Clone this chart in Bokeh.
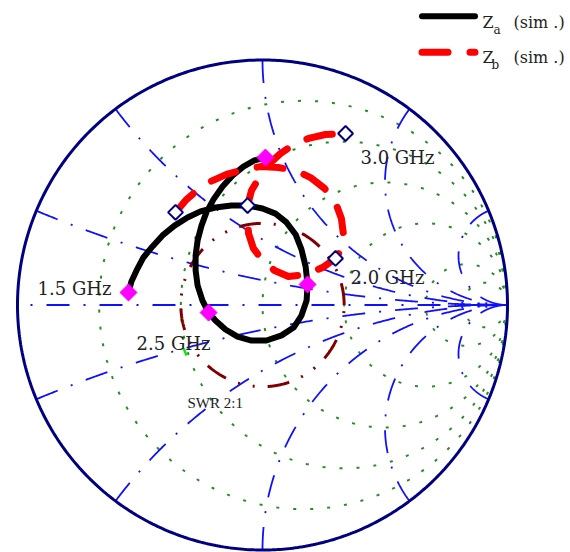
import numpy as np
from bokeh.plotting import figure
from bokeh.models import Label, Range1d
from bokeh.embed import file_html
from bokeh.resources import INLINE

# ---------------- data (reflection coefficient) ----------------
freq_labels = ["1.5 GHz", "2.0 GHz", "2.5 GHz", "3.0 GHz"]

za_re = [-0.547, -0.535, -0.514, -0.486, -0.449, -0.408, -0.359, -0.306, -0.253, -0.192,
         -0.127, -0.061, 0.000, 0.053, 0.098, 0.135, 0.159, 0.176, 0.184, 0.180,
         0.159, 0.127, 0.078, 0.016, -0.045, -0.102, -0.151, -0.192, -0.220, -0.245,
         -0.265, -0.273, -0.273, -0.265, -0.249, -0.229, -0.200, -0.163, -0.122, -0.078,
         -0.033, 0.012]
za_im = [0.051, 0.096, 0.141, 0.194, 0.239, 0.284, 0.324, 0.357, 0.382, 0.398,
         0.406, 0.406, 0.394, 0.373, 0.337, 0.288, 0.227, 0.157, 0.084, 0.018,
         -0.043, -0.092, -0.124, -0.145, -0.145, -0.129, -0.100, -0.063, -0.031, 0.018,
         0.080, 0.141, 0.202, 0.263, 0.324, 0.378, 0.431, 0.484, 0.529, 0.565,
         0.590, 0.602]

zb_re = [-0.355, -0.314, -0.269, -0.212, -0.147, -0.078, -0.008, 0.065, 0.135, 0.196,
         0.253, 0.298, 0.322, 0.331, 0.318, 0.298, 0.245, 0.176, 0.106, 0.049,
         0.000, -0.037, -0.057, -0.061, -0.061, -0.045, -0.016, 0.024, 0.073, 0.127,
         0.188, 0.257, 0.339]
zb_im = [0.378, 0.427, 0.467, 0.504, 0.533, 0.553, 0.565, 0.561, 0.549, 0.520,
         0.476, 0.418, 0.353, 0.284, 0.222, 0.190, 0.153, 0.124, 0.116, 0.141,
         0.182, 0.231, 0.292, 0.353, 0.406, 0.467, 0.516, 0.573, 0.618, 0.655,
         0.680, 0.696, 0.700]

# frequency markers (1.5, 2.0, 2.5, 3.0 GHz)
za_mark_re = [-0.547, 0.184, -0.220, 0.012]
za_mark_im = [0.051, 0.084, -0.031, 0.602]
zb_mark_re = [-0.355, 0.298, -0.061, 0.339]
zb_mark_im = [0.378, 0.190, 0.406, 0.700]

# frequency label anchors (left, baseline) in Gamma units
label_re = [-0.918, 0.359, -0.514, 0.400]
label_im = [0.067, 0.112, -0.157, 0.602]

# Smith chart grid
r_circles = [0.2, 0.5, 1.0, 2.0, 5.0, 10.0]
x_arcs = [0.2, 0.5, 1.0, 2.0, 5.0]
swr_value = 2.0
swr_text = "SWR 2:1"
swr_label_re, swr_label_im = -0.306, -0.400
swr_leader_re = [-0.322, -0.310]
swr_leader_im = [-0.177, -0.206]

series_names = ["Z", "Z"]
series_subs = ["a", "b"]
series_suffix = "(sim .)"

# ---------------- figure geometry ----------------
CX, CY, R = 262.0, 304.5, 245.0     # picture pixels of chart centre and radius
W, H = 570, 552
x0 = -CX / R
x1 = (W - CX) / R
y1 = CY / R
y0 = (CY - H) / R

p = figure(width=W, height=H, x_range=Range1d(x0, x1), y_range=Range1d(y0, y1),
           output_backend="svg", toolbar_location=None, min_border=0,
           x_axis_type=None, y_axis_type=None)
p.grid.visible = False
p.outline_line_color = None
p.background_fill_color = "white"
p.border_fill_color = "white"

GREEN = "#2a8a2a"
BLUE = "#1010ff"
BLUE_DASH = "23 14 2 14"

# constant resistance circles (green dotted)
t = np.linspace(0, 2 * np.pi, 600)
for r in r_circles:
    c = r / (r + 1.0)
    rad = 1.0 / (r + 1.0)
    p.line(c + rad * np.cos(t), rad * np.sin(t), line_color=GREEN, line_width=2,
           line_dash="3 14")

# constant reactance arcs (blue dash-dot), drawn from rim to (1,0)
for xv in x_arcs:
    cy_ = 1.0 / xv
    rho = 1.0 / xv
    ex = (xv * xv - 1) / (xv * xv + 1)
    ey = 2 * xv / (xv * xv + 1)
    th_e = np.arctan2(ey - cy_, ex - 1.0) % (2 * np.pi)
    th = np.linspace(th_e, 1.5 * np.pi, 400)
    ax = 1.0 + rho * np.cos(th)
    ay = cy_ + rho * np.sin(th)
    for s in (1, -1):
        p.line(ax, s * ay, line_color=BLUE, line_width=1.8, line_dash=BLUE_DASH)
# real axis
p.line([-1, 1], [0, 0], line_color=BLUE, line_width=1.8, line_dash=BLUE_DASH,
       line_dash_offset=24)

# outer rim
p.line(np.cos(t), np.sin(t), line_color="#000080", line_width=3)

# SWR circle
g = (swr_value - 1) / (swr_value + 1)
p.line(g * np.cos(t), g * np.sin(t), line_color="#800000", line_width=3,
       line_dash="22 13 2 13 2 13")
p.line(swr_leader_re, swr_leader_im, line_color="#00ee00", line_width=2.5)

# traces
p.line(za_re, za_im, line_color="black", line_width=6, line_join="round", line_cap="round")
p.line(zb_re, zb_im, line_color="#ff0000", line_width=7, line_join="round", line_cap="round",
       line_dash="26 22")

# markers
p.scatter(za_mark_re, za_mark_im, marker="square", angle=np.pi / 4, size=12,
          fill_color="#ff00ff", line_color="#ff00ff")
p.scatter(zb_mark_re, zb_mark_im, marker="square", angle=np.pi / 4, size=10.5,
          fill_color="white", line_color="#000080", line_width=2)

FONT = "DejaVu Serif"
TXT = "#222222"
for lx, ly, txt in zip(label_re, label_im, freq_labels):
    p.add_layout(Label(x=lx, y=ly, text=txt, text_font=FONT, text_font_size="18px",
                       text_color=TXT, text_baseline="alphabetic", text_align="left"))
p.add_layout(Label(x=swr_label_re, y=swr_label_im, text=swr_text, text_font="Liberation Serif",
                   text_font_size="15px", text_color=TXT, text_baseline="alphabetic"))

# legend (drawn manually)
def pg(px, py):
    return (px - CX) / R, (CY - py) / R

lx0, ly0 = pg(421.5, 15.7)
lx1, _ = pg(474.5, 15.7)
p.line([lx0, lx1], [ly0, ly0], line_color="black", line_width=6, line_cap="round")
_, ly2 = pg(421.5, 51.7)
p.line([lx0, lx1], [ly2, ly2], line_color="#ff0000", line_width=7, line_cap="round",
       line_dash="26 22")

rows_baseline = [22, 57]
for i, base in enumerate(rows_baseline):
    sy = H - base
    p.add_layout(Label(x=482, y=sy, x_units="screen", y_units="screen",
                       text=series_names[i], text_font=FONT, text_font_size="16px",
                       text_color=TXT, text_baseline="alphabetic"))
    p.add_layout(Label(x=493 - (2 if i else 0), y=sy - 7, x_units="screen", y_units="screen",
                       text=series_subs[i], text_font=FONT, text_font_size="12px",
                       text_color=TXT, text_baseline="alphabetic"))
    p.add_layout(Label(x=513, y=sy, x_units="screen", y_units="screen",
                       text=series_suffix, text_font=FONT, text_font_size="16px",
                       text_color=TXT, text_baseline="alphabetic"))

open("out.html", "w").write(file_html(p, INLINE))
